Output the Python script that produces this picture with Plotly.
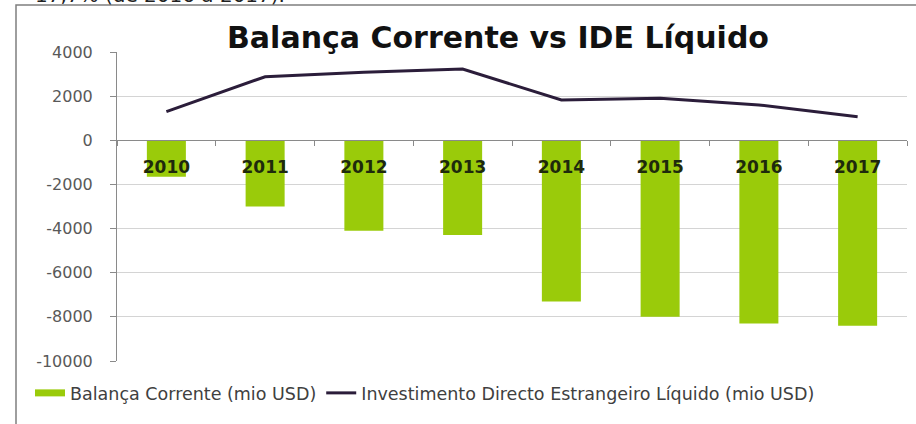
import plotly.graph_objects as go

years = ["2010", "2011", "2012", "2013", "2014", "2015", "2016", "2017"]
balanca_corrente = [-1650, -3000, -4100, -4290, -7300, -8000, -8300, -8400]
ide_liquido = [1300, 2880, 3080, 3230, 1830, 1900, 1600, 1070]
y_ticks = [4000, 2000, 0, -2000, -4000, -6000, -8000, -10000]
y_tick_labels = [str(v) for v in y_ticks]

name_bar = "Balança Corrente (mio USD)"
name_line = "Investimento Directo Estrangeiro Líquido (mio USD)"
title = "Balança Corrente vs IDE Líquido"
top_text = "17,7% (de 2016 a 2017)."

W, H = 916, 424
ML, MR, MT, MB = 117, 9, 52, 63
PW, PH = W - ML - MR, H - MT - MB

def px_x(x):
    return (x - ML) / PW

def px_y(y):
    return (H - MB - y) / PH

BAR_COLOR = "#9acb0a"
LINE_COLOR = "#2b1d3a"
AX_COLOR = "#8a8a8a"
GRID_COLOR = "#d4d4d4"

ymin, ymax = min(y_ticks), max(y_ticks)

fig = go.Figure()
fig.add_trace(go.Bar(x=years, y=balanca_corrente, marker=dict(color=BAR_COLOR, line=dict(width=0)),
                     showlegend=False, name=name_bar))
fig.add_trace(go.Scatter(x=years, y=ide_liquido, mode="lines", line=dict(color=LINE_COLOR, width=3),
                         showlegend=False, name=name_line))
# legend entries
fig.add_trace(go.Scatter(x=[None], y=[None], mode="lines", line=dict(color=BAR_COLOR, width=7), name=name_bar))
fig.add_trace(go.Scatter(x=[None], y=[None], mode="lines", line=dict(color=LINE_COLOR, width=3), name=name_line))

fig.update_layout(
    width=W, height=H,
    margin=dict(l=ML, r=MR, t=MT, b=MB, autoexpand=False),
    paper_bgcolor="white", plot_bgcolor="white",
    bargap=0.605,
    title=dict(text=title, x=498 / W, xanchor="center", y=1 - 37 / H, yanchor="middle", xref="container", yref="container",
               font=dict(family="DejaVu Sans", size=30, color="#111111", weight="bold")),
    showlegend=True,
    legend=dict(orientation="h", x=px_x(30), xanchor="left", y=px_y(393), yanchor="middle",
                font=dict(family="DejaVu Sans", size=17.5, color="#404040"), bgcolor="rgba(0,0,0,0)",
                itemwidth=30, tracegroupgap=0),
    xaxis=dict(type="category", categoryorder="array", categoryarray=years, range=[-0.5, len(years) - 0.5],
               anchor="free", position=(0 - ymin) / (ymax - ymin),
               showline=True, linecolor=AX_COLOR, linewidth=1, ticks="outside", tickson="boundaries",
               ticklen=5, tickcolor=AX_COLOR, showgrid=False, zeroline=False,
               tickfont=dict(family="DejaVu Sans", size=17, color="#1e2a0c", weight="bold"),
               ticklabelstandoff=11),
    yaxis=dict(range=[ymin, ymax], tickvals=y_ticks, ticktext=y_tick_labels, showgrid=True, gridcolor=GRID_COLOR,
               gridwidth=1, showline=True, linecolor=AX_COLOR, linewidth=1, ticks="outside", ticklen=6,
               tickcolor=AX_COLOR, zeroline=False, tickfont=dict(family="DejaVu Sans", size=16, color="#595959"),
               ticklabelstandoff=14),
    shapes=[dict(type="rect", xref="paper", yref="paper", x0=px_x(16), x1=px_x(W + 20), y0=px_y(H + 20), y1=px_y(5),
                 line=dict(color="#7f7f7f", width=1.5), fillcolor="rgba(0,0,0,0)", layer="below")],
    annotations=[dict(text=top_text, xref="paper", yref="paper", x=px_x(33), y=px_y(9), xanchor="left", yanchor="bottom",
                      showarrow=False, font=dict(family="DejaVu Sans", size=20, color="#222222"))],
)

fig.write_html("out.html", config={"displayModeBar": False},
               post_script="document.body.style.margin='0';document.body.style.overflow='hidden';")
